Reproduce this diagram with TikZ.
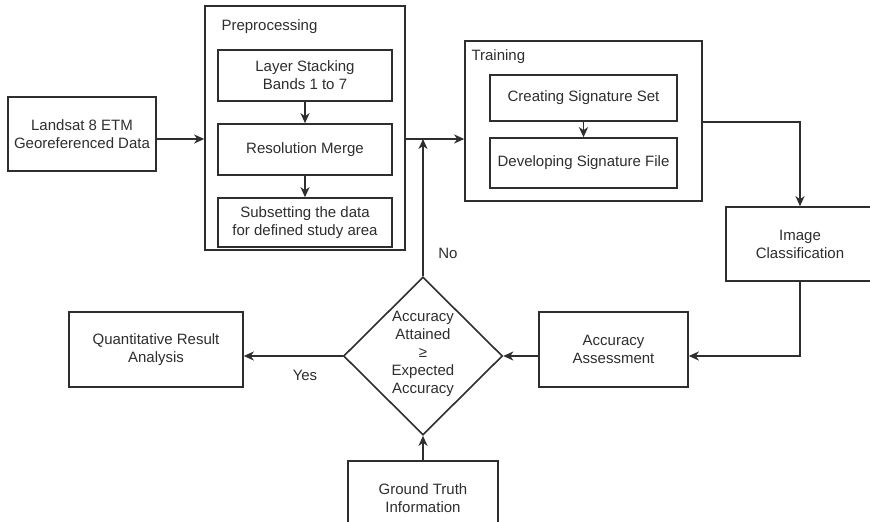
\documentclass[tikz,border=0pt]{standalone}
\usepackage{fontspec}
\setmainfont{Liberation Sans}
\usetikzlibrary{shapes.geometric,arrows.meta}
\definecolor{ink}{HTML}{2E2E2E}
\tikzset{
  txt/.style={font=\fontsize{15}{18}\selectfont, text=ink, align=center},
  box/.style={txt, draw=ink, line width=1.6pt, rectangle, inner sep=0pt},
  outerbox/.style={draw=ink, line width=1.6pt, rectangle, inner sep=0pt},
  arr/.style={draw=ink, line width=1.6pt, -{Stealth[length=10pt,width=9pt,inset=3pt]}},
  ln/.style={draw=ink, line width=1.6pt},
}
\begin{document}
\begin{tikzpicture}[x=1pt,y=-1pt]
\useasboundingbox (0,0) rectangle (870,522);
\clip (0,0) rectangle (870,522);
\fill[white] (0,0) rectangle (870,522);

% outer groups
\node[outerbox, minimum width=200, minimum height=244] (pre) at (305,128) {};
\node[txt, anchor=west] (prel) at (218,27) {Preprocessing};
\node[outerbox, minimum width=237, minimum height=160] (train) at (583.5,121) {};
\node[txt, anchor=west] (trainl) at (468,57) {Training};

% boxes
\node[box, minimum width=148, minimum height=74] (land) at (82,134) {Landsat 8 ETM\\Georeferenced Data};
\node[box, minimum width=174, minimum height=51] (layer) at (305,75.5) {Layer Stacking\\Bands 1 to 7};
\node[box, minimum width=174, minimum height=51] (res) at (305,149.5) {Resolution Merge};
\node[box, minimum width=174, minimum height=49] (sub) at (305,222.5) {Subsetting the data\\for defined study area};
\node[box, minimum width=187, minimum height=46] (create) at (583.5,98) {Creating Signature Set};
\node[box, minimum width=187, minimum height=50] (develop) at (583.5,163) {Developing Signature File};
\node[box, minimum width=148, minimum height=74] (imgc) at (800,244) {Image\\Classification};
\node[box, minimum width=149, minimum height=75] (acc) at (613.5,349.5) {Accuracy\\Assessment};
\node[box, minimum width=174, minimum height=75] (quant) at (156,349.5) {Quantitative Result\\Analysis};
\node[box, minimum width=150, minimum height=74] (ground) at (423,498) {Ground Truth\\Information};
\node[diamond, draw=ink, line width=1.6pt, aspect=1, inner sep=0pt, minimum width=159, minimum height=158] (diam) at (423,356) {};
\node[txt] (dtext) at (423,354) {Accuracy\\Attained\\≥\\Expected\\Accuracy};

\coordinate (j) at (423,139);

% connectors
\draw[arr] (land.east |- j) -- (pre.west |- j);
\draw[ln] (pre.east |- j) -- (j);
\draw[arr] (j) -- (train.west |- j);
\draw[arr] (diam.north) -- (j);
\draw[arr] (layer.south) -- (res.north);
\draw[arr] (res.south) -- (sub.north);
\draw[arr] (create.south) -- (develop.north);
\draw[arr] (train.east |- create.south) -| (imgc.north);
\draw[arr] (imgc.south) |- (acc.east |- diam);
\draw[arr] (acc.west |- diam) -- (diam.east);
\draw[arr] (diam.west) -- (quant.east |- diam);
\draw[arr] (ground.north) -- (diam.south);

% labels
\node[txt] (no) at (448,253) {No};
\node[txt] (yes) at (305,375) {Yes};
\end{tikzpicture}
\end{document}
